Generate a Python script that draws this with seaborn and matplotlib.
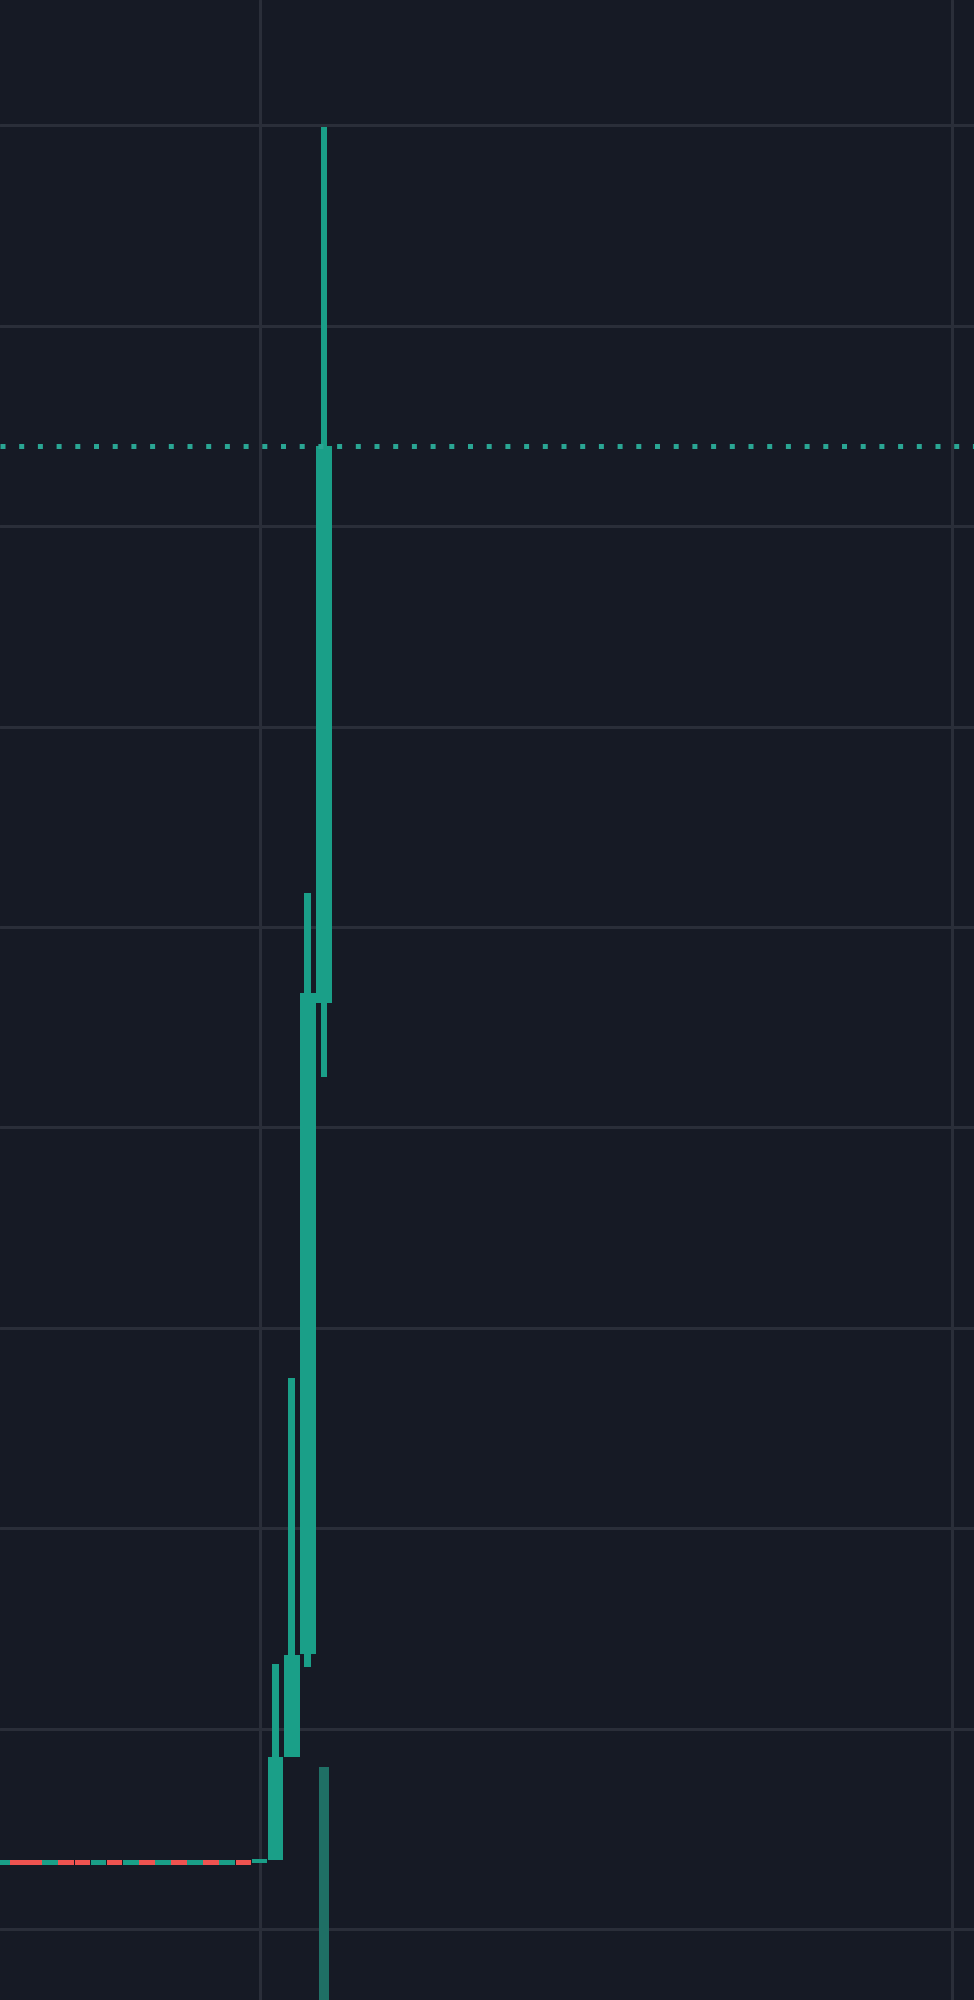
import numpy as np
import pandas as pd
import matplotlib
matplotlib.use("Agg")
import matplotlib.pyplot as plt
import seaborn as sns

# ---- data (arbitrary price units, grid every 10) ----
idx = list(range(21))
opens = [13.2, 13.45, 13.45, 13.2, 13.45, 13.45, 13.2, 13.45, 13.2, 13.45, 13.2,
         13.45, 13.2, 13.45, 13.2, 13.45, 13.3, 13.44, 18.6, 23.7, 56.2]
closes = [13.45, 13.2, 13.2, 13.45, 13.2, 13.2, 13.45, 13.2, 13.45, 13.2, 13.45,
          13.2, 13.45, 13.2, 13.45, 13.2, 13.5, 18.58, 23.67, 56.7, 84.0]
highs = [13.45, 13.45, 13.45, 13.45, 13.45, 13.45, 13.45, 13.45, 13.45, 13.45, 13.45,
         13.45, 13.45, 13.45, 13.45, 13.45, 13.5, 23.2, 37.5, 61.7, 99.9]
lows = [13.2, 13.2, 13.2, 13.2, 13.2, 13.2, 13.2, 13.2, 13.2, 13.2, 13.2,
        13.2, 13.2, 13.2, 13.2, 13.2, 13.3, 13.44, 18.6, 23.07, 52.5]
volumes = [0.5, 0.5, 0.5, 0.5, 0.5, 0.5, 0.5, 0.5, 0.5, 0.5, 0.5,
           0.5, 0.5, 0.5, 0.5, 0.5, 1.0, 3.0, 4.0, 7.0, 21.65]
price_ticks = [10, 20, 30, 40, 50, 60, 70, 80, 90, 100]
time_ticks = [16, 59]

BG = "#161a25"
GRID = "#2a2e39"
UP = "#1a9f88"
DOWN = "#ef5350"
VOL_UP = "#1f6f65"
VOL_DOWN = "#7a3a40"

sns.set_theme(style="dark", rc={"axes.facecolor": BG, "figure.facecolor": BG,
                                 "grid.color": GRID})

df = pd.DataFrame({"i": idx, "o": opens, "c": closes, "h": highs,
                   "l": lows, "v": volumes})
df["dir"] = np.where(df["c"] >= df["o"], "up", "down")
colors = [UP if d == "up" else DOWN for d in df["dir"]]

fig = plt.figure(figsize=(9.74, 20.0), dpi=100)
ax = fig.add_axes([0, 0, 1, 1])
ax.set_facecolor(BG)

# wicks
ax.bar(df["i"], df["h"] - df["l"], bottom=df["l"], width=0.42,
       color=colors, linewidth=0, zorder=3)
# bodies
ax.bar(df["i"], (df["c"] - df["o"]).abs(), bottom=np.minimum(df["o"], df["c"]),
       width=0.97, color=colors, linewidth=0, zorder=4)

# last price line
ax.axhline(closes[-1], color="#2aa694", lw=3.6, linestyle=(0, (1, 2.74)),
           dash_capstyle="butt", zorder=5)

ax.set_yticks(price_ticks)
ax.set_xticks(time_ticks)
ax.grid(True, color=GRID, lw=2.2, zorder=0)
ax.set_axisbelow(True)
ax.tick_params(length=0, labelleft=False, labelbottom=False)
for s in ax.spines.values():
    s.set_visible(False)

# volume pane overlay
ax2 = ax.twinx()
sns.barplot(data=df, x="i", y="v", hue="dir", native_scale=True, width=0.66,
            palette={"up": VOL_UP, "down": VOL_DOWN}, saturation=1,
            legend=False, ax=ax2, zorder=2, edgecolor="none", linewidth=0)
ax2.set_ylim(10, 110)
ax2.grid(False)
ax2.set_yticks([])
ax2.set_xlabel("")
ax2.set_ylabel("")
for s in ax2.spines.values():
    s.set_visible(False)
ax2.tick_params(length=0, labelright=False, labelbottom=False)

ax.set_xlim(16 - 259.5 / 16.1, 16 + 714.5 / 16.1)
ax.set_ylim(10 - 71 / 20.04, 10 + 1929 / 20.04)
ax2.set_xlim(ax.get_xlim())

fig.savefig("out.png", dpi=100, facecolor=BG)
